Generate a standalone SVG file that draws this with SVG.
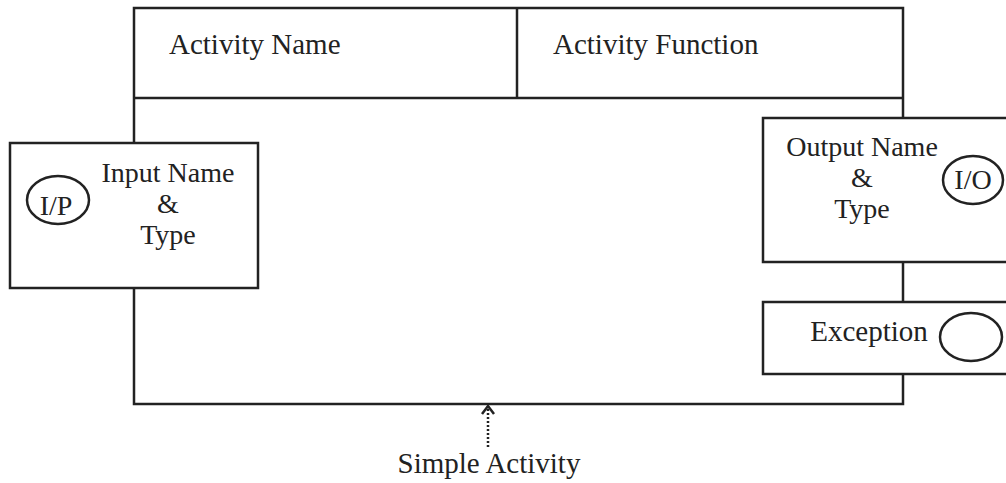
<svg xmlns="http://www.w3.org/2000/svg" width="1006" height="483" viewBox="0 0 1006 483">
<style>
.b{fill:#fff;stroke:#222;stroke-width:2.5}
.l{stroke:#222;stroke-width:2.5;fill:none}
.t{font-family:"Liberation Serif",serif;font-size:29px;fill:#222}
.s{font-size:28px}
.c{text-anchor:middle}
</style>
<defs>
<marker id="ah" markerWidth="16" markerHeight="16" refX="11" refY="7" orient="auto" markerUnits="userSpaceOnUse">
<path d="M3,1 L11,7 L3,13" fill="none" stroke="#222" stroke-width="2.5"/>
</marker>
</defs>
<g id="activity">
<rect class="b" x="134" y="8" width="769" height="396"/>
<line class="l" x1="134" y1="98" x2="903" y2="98"/>
<line class="l" x1="517" y1="8" x2="517" y2="98"/>
<text class="t" x="169" y="54">Activity Name</text>
<text class="t" x="553" y="54">Activity Function</text>
</g>
<g id="input">
<rect class="b" x="10" y="143" width="248" height="145"/>
<ellipse class="l" cx="58" cy="200" rx="31" ry="24"/>
<text class="t c s" x="56" y="215">I/P</text>
<text class="t c s" x="168" y="182">Input Name</text>
<text class="t c s" x="168" y="213">&amp;</text>
<text class="t c s" x="168" y="244">Type</text>
</g>
<g id="output">
<rect class="b" x="763" y="118" width="260" height="144"/>
<ellipse class="l" cx="973" cy="180" rx="30" ry="24"/>
<text class="t c s" x="973" y="189">I/O</text>
<text class="t c s" x="862" y="156">Output Name</text>
<text class="t c s" x="862" y="187">&amp;</text>
<text class="t c s" x="862" y="218">Type</text>
</g>
<g id="exception">
<rect class="b" x="763" y="302" width="260" height="72"/>
<ellipse class="l" cx="971" cy="337" rx="31" ry="24"/>
<text class="t c" x="869" y="341">Exception</text>
</g>
<g id="connectors">
<line x1="488" y1="447" x2="488" y2="406" stroke="#222" stroke-width="2.5" stroke-dasharray="2,2" marker-end="url(#ah)"/>
</g>
<g id="label">
<text class="t c" x="489" y="473">Simple Activity</text>
</g>
</svg>
